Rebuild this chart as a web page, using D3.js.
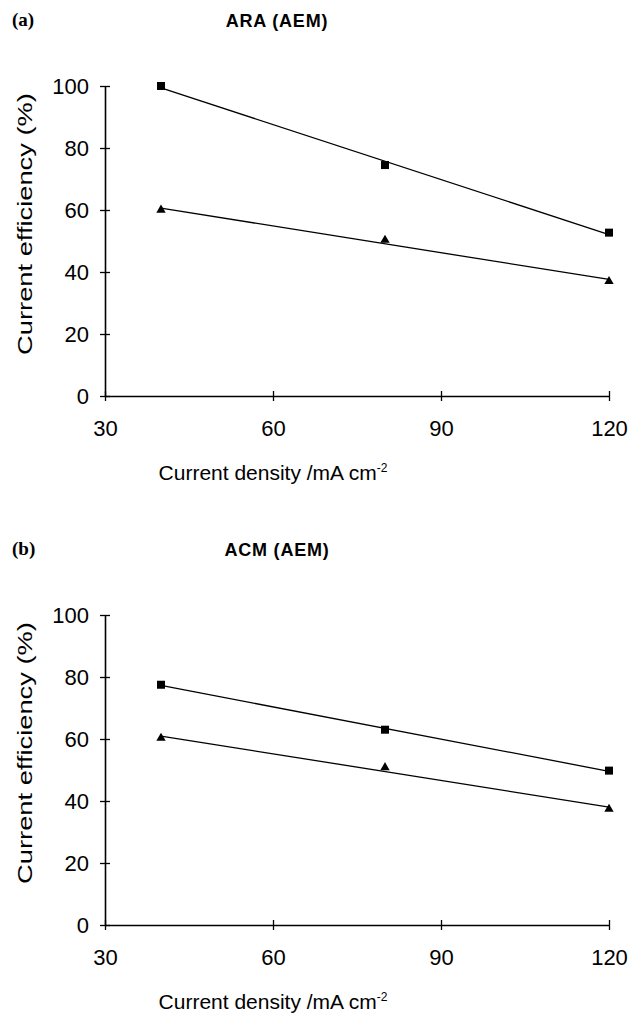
<!DOCTYPE html>
<html>
<head>
<meta charset="utf-8">
<script src="https://cdn.jsdelivr.net/npm/d3@7"></script>
<style>
  html, body { margin: 0; padding: 0; background: #fff; }
  svg { display: block; }
  text { font-family: "Liberation Sans", Arial, sans-serif; fill: #000; }
</style>
</head>
<body>
<svg id="chart" width="631" height="1014"></svg>
<script>
// ---- data ----
const currentDensity = [40, 80, 120];           // mA cm-2
const araSquares   = [100, 74.5, 52.7];          // panel (a), squares
const araTriangles = [60, 50.3, 37];             // panel (a), triangles
const acmSquares   = [77.5, 63, 49.8];           // panel (b), squares
const acmTriangles = [60.3, 50.8, 37.4];         // panel (b), triangles
const xTicks = [30, 60, 90, 120];
const yTicks = [0, 20, 40, 60, 80, 100];
const panelLetters = ["(a)", "(b)"];
const panelTitles = ["ARA (AEM)", "ACM (AEM)"];

const svg = d3.select("#chart");

function linFit(xs, ys) {
  const mx = d3.mean(xs), my = d3.mean(ys);
  let sxy = 0, sxx = 0;
  xs.forEach((xv, i) => { sxy += (xv - mx) * (ys[i] - my); sxx += (xv - mx) ** 2; });
  const b = sxy / sxx, a = my - b * mx;
  return v => a + b * v;
}

function panel(offsetY, letter, title, squares, triangles) {
  const g = svg.append("g").attr("transform", `translate(0,${offsetY})`);
  const x = d3.scaleLinear().domain([30, 120]).range([105, 609]);
  const y = d3.scaleLinear().domain([0, 100]).range([396, 86]);

  g.append("text").attr("x", 12).attr("y", 26)
    .style("font-family", "'Liberation Serif', 'Times New Roman', serif")
    .style("font-size", "19px").style("font-weight", "bold").text(letter);
  g.append("text").attr("x", 277).attr("y", 27).attr("text-anchor", "middle")
    .style("font-size", "18px").style("font-weight", "bold").style("letter-spacing", "0.8px")
    .text(title);

  // axes
  const xAxis = g.append("g").attr("transform", `translate(0,${y(0)})`)
    .call(d3.axisBottom(x).tickValues(xTicks).tickSizeOuter(0).tickSizeInner(5).tickPadding(19));
  const yAxis = g.append("g").attr("transform", `translate(${x(30)},0)`)
    .call(d3.axisLeft(y).tickValues(yTicks).tickSizeOuter(0).tickSizeInner(5).tickPadding(11));
  [xAxis, yAxis].forEach(a => {
    a.select(".domain").attr("stroke", "#000").attr("stroke-width", 1.6);
    a.selectAll(".tick text").style("font-size", "22px").style("font-family", "'Liberation Sans', Arial, sans-serif");
    a.selectAll(".tick line").attr("stroke", "#000").attr("stroke-width", 1.3);
  });
  xAxis.selectAll(".tick line").attr("y1", -5).attr("y2", 5);
  yAxis.selectAll(".tick line").attr("x1", -5).attr("x2", 5);

  // axis titles
  g.append("text").attr("x", 273).attr("y", 480).attr("text-anchor", "middle")
    .style("font-size", "21px")
    .html('Current density /mA cm<tspan dy="-8" font-size="12">-2</tspan>');
  g.append("text").attr("transform", `translate(32,${224}) rotate(-90) scale(1.3,1)`)
    .attr("text-anchor", "middle")
    .style("font-size", "21px").text("Current efficiency (%)");

  // trend lines (least-squares fit through each series)
  [squares, triangles].forEach(series => {
    const f = linFit(currentDensity, series);
    const x0 = currentDensity[0], x1 = currentDensity[currentDensity.length - 1];
    g.append("line")
      .attr("x1", x(x0)).attr("y1", y(f(x0)))
      .attr("x2", x(x1)).attr("y2", y(f(x1)))
      .attr("stroke", "#000").attr("stroke-width", 1.3);
  });

  // markers
  g.selectAll("rect.sq").data(squares).join("rect").attr("class", "sq")
    .attr("x", (d, i) => x(currentDensity[i]) - 4).attr("y", d => y(d) - 4)
    .attr("width", 8).attr("height", 8).attr("fill", "#000");
  const tri = d3.symbol().type(d3.symbolTriangle).size(38);
  g.selectAll("path.tr").data(triangles).join("path").attr("class", "tr")
    .attr("d", tri)
    .attr("transform", (d, i) => `translate(${x(currentDensity[i])},${y(d)})`)
    .attr("fill", "#000");
}

panel(0, panelLetters[0], panelTitles[0], araSquares, araTriangles);
panel(529, panelLetters[1], panelTitles[1], acmSquares, acmTriangles);
</script>
</body>
</html>
